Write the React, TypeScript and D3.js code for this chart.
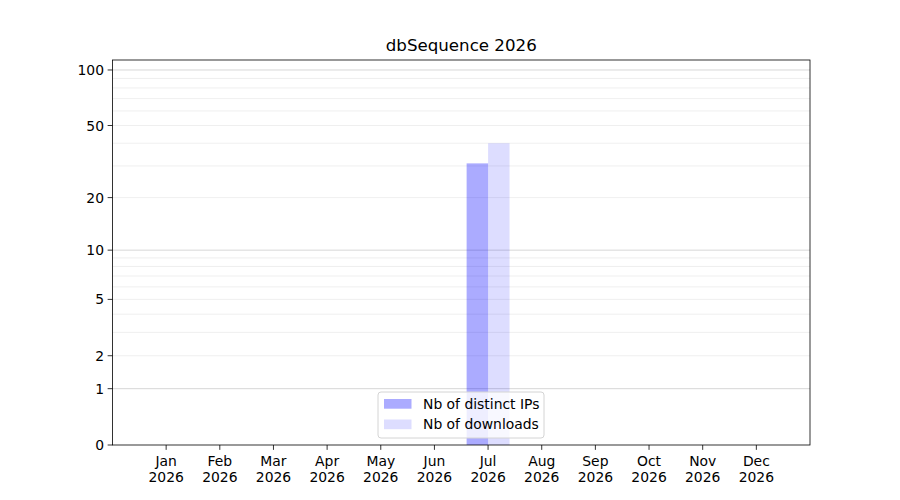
import React from 'react';
import * as d3 from 'd3';

const months = ['Jan', 'Feb', 'Mar', 'Apr', 'May', 'Jun', 'Jul', 'Aug', 'Sep', 'Oct', 'Nov', 'Dec'];
const year = '2026';
const distinctIps = [0, 0, 0, 0, 0, 0, 31, 0, 0, 0, 0, 0];
const downloads = [0, 0, 0, 0, 0, 0, 40, 0, 0, 0, 0, 0];
const yTicks = [0, 1, 2, 5, 10, 20, 50, 100];
const majorGrid = [1, 10, 100];
const minorGrid = [2, 3, 4, 5, 6, 7, 8, 9, 20, 30, 40, 50, 60, 70, 80, 90];

const W = 900;
const H = 500;
const margin = { top: 60, right: 90, bottom: 55, left: 112.5 };
const font = '"DejaVu Sans", sans-serif';

export default function App() {
    const plotW = W - margin.left - margin.right;
    const plotH = H - margin.top - margin.bottom;

    // x: month index, axis runs from -1 to 12
    const x = d3.scaleLinear().domain([-1, 12]).range([0, plotW]);
    // y: log10(v + 1)
    const yLog = d3.scaleLog().domain([1, 114.2]).range([plotH, 0]);
    const y = (v: number) => yLog(v + 1);
    const barW = 0.4;

    return (
        <svg width={W} height={H} style={{ display: 'block', position: 'absolute', left: 0, top: 0, fontFamily: font }}>
            <rect width={W} height={H} fill="white" />
            <text x={margin.left + plotW / 2} y={51} textAnchor="middle" fontSize={16.67} fill="#000">
                dbSequence 2026
            </text>
            <g transform={`translate(${margin.left},${margin.top})`}>
                {/* grid */}
                {minorGrid.map(v => (
                    <line key={'mi' + v} x1={0} x2={plotW} y1={y(v)} y2={y(v)} stroke="#ebebeb" strokeWidth={0.8} />
                ))}
                {majorGrid.map(v => (
                    <line key={'ma' + v} x1={0} x2={plotW} y1={y(v)} y2={y(v)} stroke="#cccccc" strokeWidth={0.8} />
                ))}

                {/* bars */}
                {distinctIps.map((v, i) => v > 0 && (
                    <rect key={'ip' + i} x={x(i - barW)} width={x(barW) - x(0)} y={y(v)} height={y(0) - y(v)}
                        fill="blue" fillOpacity={0.33} />
                ))}
                {downloads.map((v, i) => v > 0 && (
                    <rect key={'dl' + i} x={x(i)} width={x(barW) - x(0)} y={y(v)} height={y(0) - y(v)}
                        fill="blue" fillOpacity={0.135} />
                ))}

                {/* y axis */}
                {yTicks.map(v => (
                    <g key={'yt' + v} transform={`translate(0,${y(v)})`}>
                        <line x1={-4.86} x2={0} stroke="#000" strokeWidth={0.8} />
                        <text x={-8.5} dy="0.36em" textAnchor="end" fontSize={13.9} fill="#000">{v}</text>
                    </g>
                ))}

                {/* x axis */}
                {months.map((m, i) => (
                    <g key={m} transform={`translate(${x(i)},${plotH})`}>
                        <line y1={0} y2={4.86} stroke="#000" strokeWidth={0.8} />
                        <text y={21} textAnchor="middle" fontSize={13.9} fill="#000">{m}</text>
                        <text y={37} textAnchor="middle" fontSize={13.9} fill="#000">{year}</text>
                    </g>
                ))}

                <rect x={0} y={0} width={plotW} height={plotH} fill="none" stroke="#000" strokeWidth={0.8} />

                {/* legend */}
                <g transform={`translate(${378 - margin.left},${392 - margin.top})`}>
                    <rect x={0} y={0} width={166} height={46} rx={3} fill="white" fillOpacity={0.8} stroke="#d4d4d4" strokeWidth={1} />
                    <rect x={6} y={7} width={27.5} height={9.7} fill="blue" fillOpacity={0.33} />
                    <text x={45} y={16.5} fontSize={13.9} fill="#000">Nb of distinct IPs</text>
                    <rect x={6} y={27.5} width={27.5} height={9.7} fill="blue" fillOpacity={0.135} />
                    <text x={45} y={37} fontSize={13.9} fill="#000">Nb of downloads</text>
                </g>
            </g>
        </svg>
    );
}
